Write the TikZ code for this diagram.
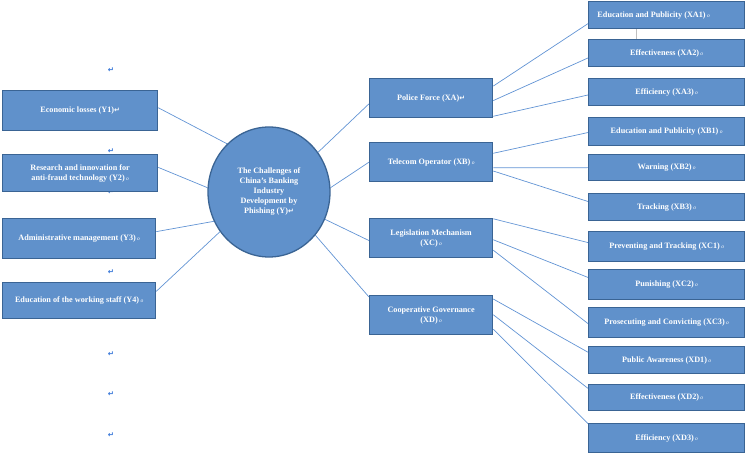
\documentclass[tikz,border=0pt]{standalone}
\usepackage{fontspec}
\setmainfont{Liberation Serif}
\newfontfamily\symfont{DejaVu Sans}
\usetikzlibrary{shapes.geometric,calc,backgrounds}
\definecolor{boxfill}{RGB}{96,145,203}
\definecolor{boxline}{RGB}{58,100,148}
\definecolor{connline}{RGB}{98,148,212}
\definecolor{markblue}{RGB}{50,115,215}
\tikzset{
  box/.style={draw=boxline, fill=boxfill, line width=1.3pt, text=white,
    font=\bfseries\fontsize{8.2}{10}\selectfont, align=center, anchor=north west, inner sep=1pt},
  hub/.style={ellipse, draw=boxline, fill=boxfill, line width=1.3pt, text=white,
    font=\bfseries\fontsize{8.2}{10}\selectfont, align=center, inner sep=0pt,
    minimum width=122pt, minimum height=130pt},
  conn/.style={draw=connline, line width=0.7pt},
  pmark/.style={text=markblue, font=\symfont\bfseries\fontsize{7.5}{7.5}\selectfont, inner sep=0pt},
  sidelink/.style={draw=black!25, line width=0.6pt}
}
\newcommand{\omark}{\,{\fontsize{5.5}{5.5}\selectfont\itshape\mdseries o}}
\newcommand{\retmark}{{\symfont\fontsize{7}{7}\selectfont ↵}}
\newcommand{\linkEW}[4]{\draw[conn] ($(#1.north east)!#2!(#1.south east)$) -- ($(#3.north west)!#4!(#3.south west)$);}
\begin{document}
\begin{tikzpicture}[x=1pt,y=-1pt]
\useasboundingbox (0,0) rectangle (746,454);
% paragraph marks
\node[pmark] (m1) at (111,70) {↵};
\node[pmark] (m2) at (111,151) {↵};
\node[pmark] (m3) at (111,192) {↵};
\node[pmark] (m4) at (111,272) {↵};
\node[pmark] (m5) at (111,354) {↵};
\node[pmark] (m6) at (111,394) {↵};
\node[pmark] (m7) at (111,435) {↵};
% left boxes
\node[box, minimum width=155pt, minimum height=40pt] (Y1) at (2,90) {Economic losses (Y1)\retmark};
\node[box, minimum width=155pt, minimum height=37pt] (Y2) at (2,154) {Research and innovation for\\anti-fraud technology (Y2)\omark};
\node[box, minimum width=153pt, minimum height=40pt] (Y3) at (2,218) {Administrative management (Y3)\omark};
\node[box, minimum width=153pt, minimum height=36pt] (Y4) at (2,282) {Education of the working staff (Y4)\omark};
% hub
\node[hub] (Y) at (269,192) {The Challenges of\\China’s Banking\\Industry\\Development by\\Phishing (Y)\retmark};
% middle
\node[box, minimum width=123pt, minimum height=39pt] (XA) at (369,78) {Police Force (XA)\retmark};
\node[box, minimum width=123pt, minimum height=39pt] (XB) at (369,142) {Telecom Operator (XB)\omark};
\node[box, minimum width=123pt, minimum height=39pt] (XC) at (369,218) {Legislation Mechanism\\(XC)\omark};
\node[box, minimum width=123pt, minimum height=39pt] (XD) at (369,295) {Cooperative Governance\\(XD)\omark};
% right
\node[box, minimum width=156pt, minimum height=27pt] (XA1) at (588,1) {Education and Publicity (XA1)\omark\hspace*{26pt}};
\node[box, minimum width=156pt, minimum height=27pt] (XA2) at (588,39) {Effectiveness (XA2)\omark};
\node[box, minimum width=156pt, minimum height=27pt] (XA3) at (588,78) {Efficiency (XA3)\omark};
\node[box, minimum width=156pt, minimum height=28pt] (XB1) at (588,117) {Education and Publicity (XB1)\omark};
\node[box, minimum width=156pt, minimum height=26pt] (XB2) at (588,154) {Warning (XB2)\omark};
\node[box, minimum width=156pt, minimum height=27pt] (XB3) at (588,193) {Tracking (XB3)\omark};
\node[box, minimum width=156pt, minimum height=30pt] (XC1) at (588,231) {Preventing and Tracking (XC1)\omark};
\node[box, minimum width=156pt, minimum height=30pt] (XC2) at (588,269) {Punishing (XC2)\omark};
\node[box, minimum width=156pt, minimum height=30pt] (XC3) at (588,307) {Prosecuting and Convicting (XC3)\omark};
\node[box, minimum width=156pt, minimum height=27pt] (XD1) at (588,346) {Public Awareness (XD1)\omark};
\node[box, minimum width=156pt, minimum height=26pt] (XD2) at (588,384) {Effectiveness (XD2)\omark};
\node[box, minimum width=156pt, minimum height=29pt] (XD3) at (588,423) {Efficiency (XD3)\omark};
\begin{scope}[on background layer]
% left to hub
\draw[conn] ($(Y1.north east)!.43!(Y1.south east)$) -- (Y.131.8);
\draw[conn] ($(Y2.north east)!.35!(Y2.south east)$) -- (Y.176);
\draw[conn] ($(Y3.north east)!.33!(Y3.south east)$) -- (Y.208);
\draw[conn] ($(Y4.north east)!.25!(Y4.south east)$) -- (Y.219);
% hub to middle
\draw[conn] (Y.39) -- ($(XA.north west)!.64!(XA.south west)$);
\draw[conn] (Y.4) -- ($(XB.north west)!.5!(XB.south west)$);
\draw[conn] (Y.-26) -- ($(XC.north west)!.56!(XC.south west)$);
\draw[conn] (Y.-43) -- ($(XD.north west)!.05!(XD.south west)$);
% middle to right
\linkEW{XA}{.2}{XA1}{.8}
\linkEW{XA}{.56}{XA2}{.67}
\linkEW{XA}{.95}{XA3}{.6}
\linkEW{XB}{.28}{XB1}{.53}
\linkEW{XB}{.64}{XB2}{.5}
\linkEW{XB}{.72}{XB3}{.3}
\linkEW{XC}{.02}{XC1}{.37}
\linkEW{XC}{.54}{XC2}{.27}
\linkEW{XC}{.8}{XC3}{.53}
\linkEW{XD}{.1}{XD1}{.22}
\linkEW{XD}{.49}{XD2}{.16}
\linkEW{XD}{.85}{XD3}{.02}
\draw[sidelink] ($(XA1.south west)!.31!(XA1.south east)$) -- ($(XA2.north west)!.31!(XA2.north east)$);
\end{scope}
\end{tikzpicture}
\end{document}
